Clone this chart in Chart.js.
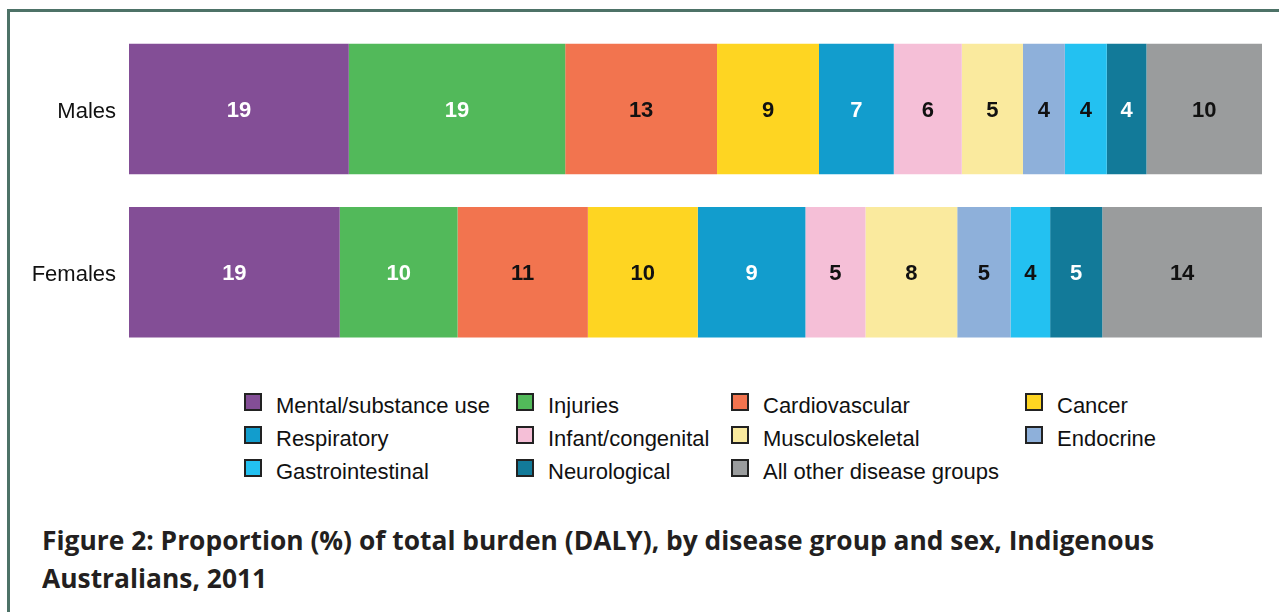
<!DOCTYPE html>
<html>
<head>
<meta charset="utf-8">
<script src="https://cdn.jsdelivr.net/npm/chart.js@4.4.1/dist/chart.umd.min.js"></script>
<style>
  html, body { margin:0; padding:0; background:#fff; }
  body { width:1279px; height:612px; position:relative; overflow:hidden; font-family:"Liberation Sans", Arial, sans-serif; }
  .frame { position:absolute; left:7px; top:9px; width:1300px; height:700px; border-left:3px solid #4d7267; border-top:3px solid #4d7267; }
  .chart-wrap { position:absolute; left:0; top:0; width:1279px; height:380px; }
  #legend { position:absolute; left:244px; top:393px; display:grid; grid-template-columns:272px 215px 294px 200px; grid-auto-rows:33px; }
  .lg-item { display:flex; align-items:flex-start; height:33px; }
  .lg-box { width:18px; height:18px; box-sizing:border-box; border:2px solid #222; flex:none; }
  .lg-txt { margin-left:14px; font-size:22px; line-height:22px; color:#111; position:relative; top:2px; white-space:nowrap; }
  .title { position:absolute; left:42px; top:521px; font-family:"Open Sans", sans-serif; font-weight:700; font-size:27px; line-height:38px; color:#231f20; white-space:nowrap; }
  .title span { display:block; transform-origin:0 0; }
</style>
</head>
<body>
<div class="frame"></div>
<div class="chart-wrap"><canvas id="chartDaly"></canvas></div>
<div id="legend"></div>
<div class="title" id="title">
  <span id="t1">Figure 2: Proportion (%) of total burden (DALY), by disease group and sex, Indigenous</span>
  <span id="t2">Australians, 2011</span>
</div>
<script>
// ══════════════════════════════════════════════
// DATA
// ══════════════════════════════════════════════
const sexes      = ['Males', 'Females'];
const grupos     = ['Mental/substance use','Injuries','Cardiovascular','Cancer','Respiratory','Infant/congenital','Musculoskeletal','Endocrine','Gastrointestinal','Neurological','All other disease groups'];
const males      = [19.4, 19.1, 13.4, 9.0, 6.6, 6.0, 5.4, 3.7, 3.7, 3.5, 10.2];
const females    = [18.6, 10.4, 11.5, 9.7, 9.5, 5.3, 8.1, 4.7, 3.5, 4.6, 14.1];
const malesLbl   = [19, 19, 13, 9, 7, 6, 5, 4, 4, 4, 10];
const femalesLbl = [19, 10, 11, 10, 9, 5, 8, 5, 4, 5, 14];

const colores    = ['#834e96','#52b95a','#f2744f','#fed522','#129dcd','#f5bfd7','#faea9e','#8eb0da','#23c1f1','#127a99','#9a9c9d'];
const txtColores = ['#fff','#fff','#111','#111','#fff','#111','#111','#111','#111','#fff','#111'];

// ══════════════════════════════════════════════
// CHART
// ══════════════════════════════════════════════
const datasets = grupos.map((g,i) => ({
  label: g,
  data: [males[i], females[i]],
  valLabels: [malesLbl[i], femalesLbl[i]],
  txtColor: txtColores[i],
  backgroundColor: colores[i],
  borderWidth: 0,
  barPercentage: 0.8,
  categoryPercentage: 1
}));

const barLabels = {
  id: 'barLabels',
  afterDatasetsDraw(chart) {
    const ctx = chart.ctx;
    ctx.save();
    ctx.font = 'bold 22px "Liberation Sans", Arial, sans-serif';
    ctx.textAlign = 'center';
    ctx.textBaseline = 'middle';
    chart.data.datasets.forEach((ds,i) => {
      chart.getDatasetMeta(i).data.forEach((bar,j) => {
        ctx.fillStyle = ds.txtColor;
        ctx.fillText(String(ds.valLabels[j]), (bar.x+bar.base)/2, bar.y+2);
      });
    });
    ctx.restore();
  }
};

const chartInst = new Chart(document.getElementById('chartDaly'), {
  type: 'bar',
  data: { labels: sexes, datasets },
  plugins: [barLabels],
  options: {
    indexAxis: 'y',
    responsive: true, maintainAspectRatio: false,
    animation: false, events: [],
    // hidden x axis still eats ~7.7px at the bottom, hence the smaller pad
    layout: { padding: { top: 27.5, bottom: 14.8, right: 17, left: 0 } },
    plugins: { legend: { display: false }, tooltip: { enabled: false } },
    scales: {
      x: { stacked: true, display: false, min: 0, max: 100 },
      y: {
        stacked: true,
        grid: { display: false, drawTicks: false },
        border: { display: false },
        ticks: { color: '#111', padding: 13, labelOffset: 3, font: { size: 22, family: '"Liberation Sans", Arial, sans-serif' } },
        afterFit: s => { s.width = 129; }
      }
    }
  }
});

// ══════════════════════════════════════════════
// LEGEND
// ══════════════════════════════════════════════
document.getElementById('legend').innerHTML = chartInst.data.datasets.map(ds => `
  <div class="lg-item"><div class="lg-box" style="background:${ds.backgroundColor}"></div><span class="lg-txt">${ds.label}</span></div>`).join('');

// title: condensed to fit the original line width
const t1 = document.getElementById('t1'), t2 = document.getElementById('t2');
const r1 = document.createRange(); r1.selectNodeContents(t1);
const k = 1112 / r1.getBoundingClientRect().width;
t1.style.transform = `scaleX(${k})`;
t2.style.transform = `scaleX(${k})`;
</script>
</body>
</html>
